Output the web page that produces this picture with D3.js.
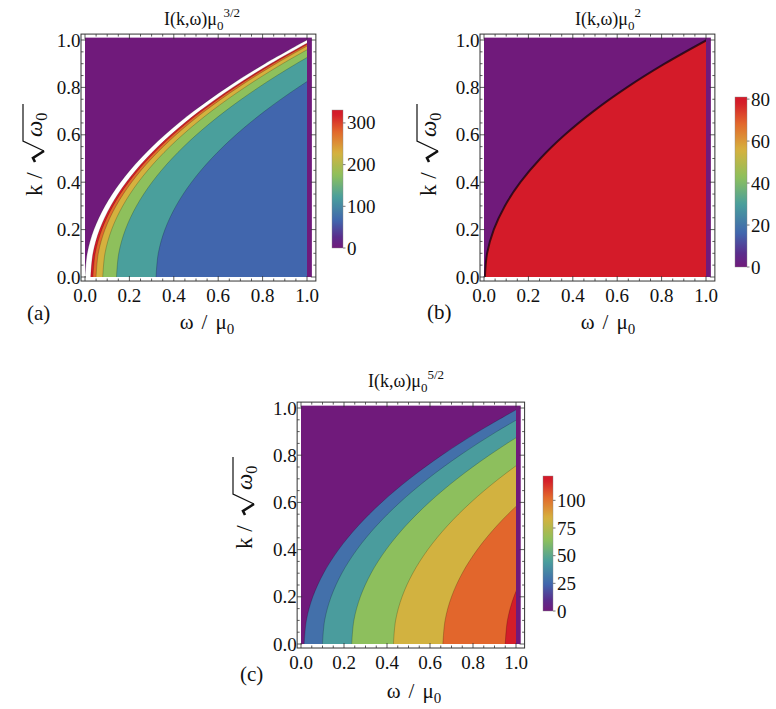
<!DOCTYPE html>
<html>
<head>
<meta charset="utf-8">
<script src="https://cdn.jsdelivr.net/npm/d3@7"></script>
<style>
  body { margin: 0; background: #fff; }
</style>
</head>
<body>
<script>
// edge of the spectrum (purple / coloured boundary): ω vs k
const edgeK = [0, 0.1, 0.2, 0.3, 0.4, 0.5, 0.6, 0.7, 0.8, 0.9, 1.0];
const edgeW = [0, 0.01, 0.04, 0.09, 0.16, 0.25, 0.36, 0.49, 0.64, 0.81, 1.0];

// contour boundaries = edge shifted right by these ω offsets (k = 0 intercepts)
// and the value shown in the band to the right of each boundary
const shiftsA = [0, 0.026, 0.036, 0.05, 0.08, 0.142, 0.32];
const valuesA = [400, 322, 278, 228, 175, 122, 66];
const shiftsB = [0.004];
const valuesB = [80];
const shiftsC = [0.015, 0.10, 0.236, 0.43, 0.66, 0.95];
const valuesC = [28, 44, 64, 83, 103, 118];

const axisTicks = [0, 0.2, 0.4, 0.6, 0.8, 1.0];
const barTicksA = [0, 100, 200, 300];
const barTicksB = [0, 20, 40, 60, 80];
const barTicksC = [0, 25, 50, 75, 100];
const barMaxA = 331, barMaxB = 81, barMaxC = 122;

const rainbowStops = [0, 0.08, 0.2, 0.37, 0.53, 0.69, 0.84, 0.97, 1];
const rainbowColors = ["#701a7b", "#5a2d8c", "#4166ad", "#4a9f9c", "#8fc05b", "#d6b13e", "#e2692c", "#d41b29", "#d41b29"];
const rainbow = d3.scaleLinear().domain(rainbowStops).range(rainbowColors).clamp(true);

const serif = "'Liberation Serif', 'Times New Roman', Times, 'DejaVu Serif', serif";

const panels = [
  {id: "a", xr: [85, 307], yr: [277, 40], shifts: shiftsA, values: valuesA, power: "3/2",
   lineW: 0.8, lineO: 0.25, bar: [332, 110, 343, 248], barMax: barMaxA, barTicks: barTicksA,
   title: [202, 25], xlab: [207, 329], ylab: [42, 150], tag: [27, 320], tagText: "(a)"},
  {id: "b", xr: [484, 706], yr: [277, 40], shifts: shiftsB, values: valuesB, power: "2",
   lineW: 2, lineO: 0.65, bar: [735, 97, 747, 267], barMax: barMaxB, barTicks: barTicksB,
   title: [608, 25], xlab: [608, 329], ylab: [436, 150], tag: [427, 319], tagText: "(b)"},
  {id: "c", xr: [301, 516], yr: [644, 408], shifts: shiftsC, values: valuesC, power: "5/2",
   lineW: 0.8, lineO: 0.25, bar: [543, 476, 553, 611], barMax: barMaxC, barTicks: barTicksC,
   title: [406, 387], xlab: [414, 698], ylab: [252, 503], tag: [240, 681], tagText: "(c)"}
];

const svg = d3.select("body").append("svg")
    .attr("width", 776)
    .attr("height", 709)
    .attr("viewBox", [0, 0, 776, 709])
    .attr("font-family", serif)
    .style("font-family", serif);

const defs = svg.append("defs");

panels.forEach(p => {
  const x = d3.scaleLinear().domain([0, 1]).range(p.xr);
  const y = d3.scaleLinear().domain([0, 1]).range(p.yr);
  const color = v => v > p.barMax ? "#fff" : rainbow(v / p.barMax);
  const g = svg.append("g").attr("fill", "#111");

  defs.append("clipPath").attr("id", "clip-" + p.id)
    .append("rect")
      .attr("x", x(0)).attr("y", y(1.01))
      .attr("width", x(1) - x(0)).attr("height", y(0) - y(1.01));

  // zero region, including the strip past ω = μ0
  g.append("rect")
      .attr("x", x(0)).attr("y", y(1.01))
      .attr("width", x(1.022) - x(0)).attr("height", y(0) - y(1.01))
      .attr("fill", color(0));

  const curve = c => edgeK.map((k, i) => [edgeW[i] + c, k]);
  const line = d3.line().x(d => x(d[0])).y(d => y(d[1])).curve(d3.curveCatmullRom);

  const inner = g.append("g").attr("clip-path", `url(#clip-${p.id})`);
  inner.append("g")
    .selectAll("path")
    .data(p.shifts)
    .join("path")
      .attr("fill", (c, i) => color(p.values[i]))
      .attr("d", c => line(curve(c)) + `L${x(1.5)},${y(1)}L${x(1.5)},${y(0)}Z`);

  inner.append("g")
      .attr("fill", "none")
      .attr("stroke", "#000")
      .attr("stroke-opacity", p.lineO)
      .attr("stroke-width", p.lineW)
    .selectAll("path")
    .data(p.shifts)
    .join("path")
      .attr("d", c => line(curve(c)));

  // frame with inward ticks
  const fx0 = x(-0.018), fx1 = x(1.04), fy0 = y(-0.017), fy1 = y(1.025);
  g.append("rect")
      .attr("x", fx0).attr("y", fy1)
      .attr("width", fx1 - fx0).attr("height", fy0 - fy1)
      .attr("fill", "none")
      .attr("stroke", "#333");

  const minor = d3.range(0, 1.001, 0.05);
  const len = v => axisTicks.some(t => Math.abs(t - v) < 1e-6) ? 5 : 2.5;
  const tk = g.append("g").attr("stroke", "#333").attr("stroke-width", 0.8);
  tk.selectAll(".b").data(minor).join("line").attr("class", "b")
      .attr("x1", x).attr("x2", x).attr("y1", fy0).attr("y2", v => fy0 - len(v));
  tk.selectAll(".t").data(minor).join("line").attr("class", "t")
      .attr("x1", x).attr("x2", x).attr("y1", fy1).attr("y2", v => fy1 + len(v));
  tk.selectAll(".l").data(minor).join("line").attr("class", "l")
      .attr("y1", y).attr("y2", y).attr("x1", fx0).attr("x2", v => fx0 + len(v));
  tk.selectAll(".r").data(minor).join("line").attr("class", "r")
      .attr("y1", y).attr("y2", y).attr("x1", fx1).attr("x2", v => fx1 - len(v));

  const fmt = d3.format(".1f");
  g.append("g")
      .attr("font-size", 19)
      .attr("text-anchor", "middle")
    .selectAll("text")
    .data(axisTicks)
    .join("text")
      .attr("x", x)
      .attr("y", fy0 + 21)
      .text(fmt);
  g.append("g")
      .attr("font-size", 19)
      .attr("text-anchor", "end")
    .selectAll("text")
    .data(axisTicks)
    .join("text")
      .attr("x", fx0 - 0.5)
      .attr("y", v => y(v) + 6.5)
      .text(fmt);

  // title
  const t = g.append("text")
      .attr("x", p.title[0]).attr("y", p.title[1])
      .attr("font-size", 18)
      .attr("text-anchor", "middle");
  t.append("tspan").text("I(k,ω)μ");
  t.append("tspan").attr("dy", 5).attr("font-size", 13).text("0");
  t.append("tspan").attr("dy", -13).attr("font-size", 13).text(p.power);

  // x label
  const xl = g.append("text")
      .attr("x", p.xlab[0]).attr("y", p.xlab[1])
      .attr("font-size", 21)
      .attr("text-anchor", "middle");
  xl.append("tspan").text("ω");
  xl.append("tspan").attr("dx", 8).text("/");
  xl.append("tspan").attr("dx", 8).text("μ");
  xl.append("tspan").attr("dy", 5).attr("font-size", 15).text("0");

  // y label: k / sqrt(ω0)
  const yl = g.append("g")
      .attr("transform", `translate(${p.ylab}) rotate(-90)`);
  yl.append("text").attr("x", -46).attr("font-size", 23).text("k /");
  yl.append("path")
      .attr("d", "M-12,-7L-8,-9L-1,2")
      .attr("fill", "none").attr("stroke", "#111").attr("stroke-width", 2.6);
  yl.append("path")
      .attr("d", "M-1,2L9,-19H46")
      .attr("fill", "none").attr("stroke", "#111").attr("stroke-width", 1.2);
  const om = yl.append("text").attr("x", 13).attr("font-size", 23).attr("font-style", "italic");
  om.append("tspan").text("ω");
  om.append("tspan").attr("dy", 5).attr("font-size", 16).attr("font-style", "normal").text("0");

  // panel tag
  g.append("text")
      .attr("x", p.tag[0]).attr("y", p.tag[1])
      .attr("font-size", 21)
      .text(p.tagText);

  // colour bar
  const gid = "grad-" + p.id;
  defs.append("linearGradient")
      .attr("id", gid)
      .attr("x1", 0).attr("y1", 1).attr("x2", 0).attr("y2", 0)
    .selectAll("stop")
    .data(d3.range(0, 1.0001, 0.02))
    .join("stop")
      .attr("offset", d => d)
      .attr("stop-color", d => rainbow(d));
  const [bx0, by0, bx1, by1] = p.bar;
  const by = d3.scaleLinear().domain([0, p.barMax]).range([by1, by0]);
  g.append("rect")
      .attr("x", bx0).attr("y", by0)
      .attr("width", bx1 - bx0).attr("height", by1 - by0)
      .attr("fill", `url(#${gid})`)
      .attr("stroke", "#888").attr("stroke-width", 0.4);
  g.append("g")
      .attr("stroke", "#777")
    .selectAll("line")
    .data(p.barTicks)
    .join("line")
      .attr("x1", bx1).attr("x2", bx1 + 2.5)
      .attr("y1", by).attr("y2", by);
  g.append("g")
      .attr("font-size", 19)
    .selectAll("text")
    .data(p.barTicks)
    .join("text")
      .attr("x", bx1 + 4)
      .attr("y", v => by(v) + 6.5)
      .text(d => d);
});
</script>
</body>
</html>
